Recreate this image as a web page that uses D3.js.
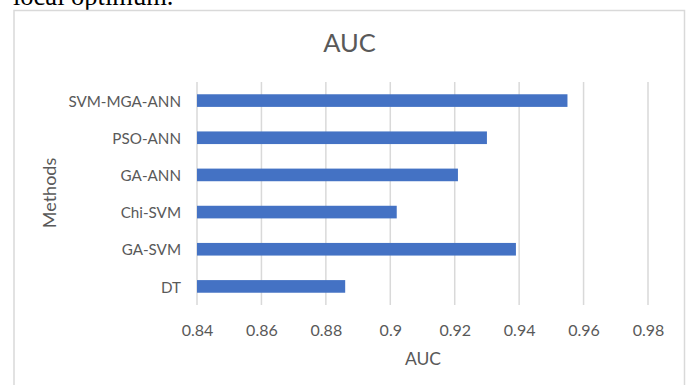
<!DOCTYPE html>
<html>
<head>
<meta charset="utf-8">
<script src="https://cdn.jsdelivr.net/npm/d3@7"></script>
<style>
  html, body { margin: 0; padding: 0; background: #fff; }
  svg { display: block; }
</style>
</head>
<body>
<svg id="chart" width="687" height="385"></svg>
<script>
const categories = ["SVM-MGA-ANN", "PSO-ANN", "GA-ANN", "Chi-SVM", "GA-SVM", "DT"];
const aucValues = [0.955, 0.930, 0.921, 0.902, 0.939, 0.886];
const xTicks = [0.84, 0.86, 0.88, 0.9, 0.92, 0.94, 0.96, 0.98];
const chartTitle = "AUC";
const xAxisTitle = "AUC";
const yAxisTitle = "Methods";
const topText = "local optimum.";

const svg = d3.select("#chart");
const FONT = "Lato, 'Open Sans', sans-serif";
const TXT = "#595959";
const GRID = "#d9d9d9";

svg.append("rect").attr("width", 687).attr("height", 385).attr("fill", "#fff");

// partial text from document above the chart
svg.append("text").attr("x", 13).attr("y", 4.5)
  .attr("font-family", "'Liberation Serif', 'Times New Roman', serif")
  .attr("font-size", 26.5).attr("fill", "#000").text(topText);

// chart frame
svg.append("rect").attr("x", 14).attr("y", 10.5).attr("width", 670.5).attr("height", 400)
  .attr("fill", "#fff").attr("stroke", GRID).attr("stroke-width", 1.5);

const x = d3.scaleLinear().domain([0.84, 0.98]).range([197, 648]);
const y = d3.scaleBand().domain(categories).range([82, 305]).paddingInner(0.66).paddingOuter(0.33);

// gridlines
svg.append("g").selectAll("line").data(xTicks).join("line")
  .attr("x1", d => x(d)).attr("x2", d => x(d))
  .attr("y1", 82).attr("y2", 305)
  .attr("stroke", GRID).attr("stroke-width", 1.5);

// bars
svg.append("g").selectAll("rect").data(categories).join("rect")
  .attr("x", x(0.84))
  .attr("y", d => y(d))
  .attr("width", (d, i) => x(aucValues[i]) - x(0.84))
  .attr("height", y.bandwidth())
  .attr("fill", "#4472C4");

// x axis tick labels
const xAxis = d3.axisBottom(x).tickValues(xTicks).tickSize(0).tickPadding(0)
  .tickFormat(d => d3.format("")(+d.toFixed(2)));
const gx = svg.append("g").attr("transform", "translate(0,323)").call(xAxis);
gx.select(".domain").remove();
gx.selectAll("text").attr("font-family", FONT).attr("font-size", 16).attr("fill", TXT)
  .attr("dy", null).attr("y", 13);

// y axis category labels
const yAxis = d3.axisLeft(y).tickSize(0).tickPadding(0);
const gy = svg.append("g").attr("transform", "translate(181,0)").call(yAxis);
gy.select(".domain").remove();
gy.selectAll("text").attr("font-family", FONT).attr("font-size", 15.2).attr("fill", TXT)
  .attr("dy", "0.4em");

// titles
svg.append("text").attr("x", 349.5).attr("y", 51.5).attr("text-anchor", "middle")
  .attr("font-family", FONT).attr("font-size", 25.5).attr("fill", TXT).text(chartTitle);
svg.append("text").attr("x", 423).attr("y", 365).attr("text-anchor", "middle")
  .attr("font-family", FONT).attr("font-size", 17.5).attr("fill", TXT).text(xAxisTitle);
svg.append("text").attr("transform", "translate(56,193) rotate(-90)").attr("text-anchor", "middle")
  .attr("font-family", FONT).attr("font-size", 18).attr("fill", TXT).text(yAxisTitle);
</script>
</body>
</html>
